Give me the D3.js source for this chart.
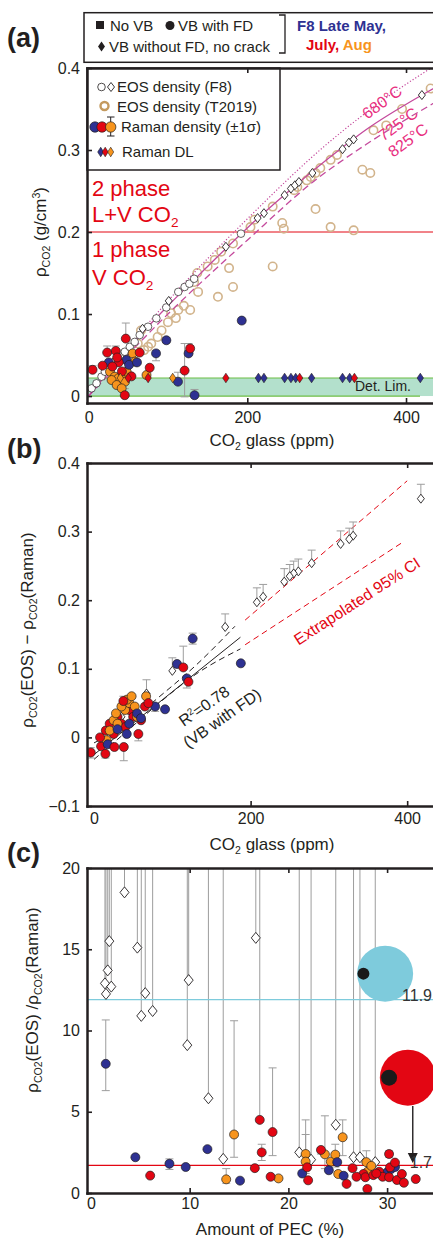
<!DOCTYPE html>
<html>
<head>
<meta charset="utf-8">
<title>CO2 density</title>
<script src="https://cdn.jsdelivr.net/npm/d3@7"></script>
<style>
  body { margin: 0; background: #fff; }
  text { font-family: "Liberation Sans", Arial, sans-serif; fill: #231f20; }
</style>
</head>
<body>
<svg id="fig" width="433" height="1238"></svg>
<script>
// ---- panel (a): EOS density vs CO2 glass ----
var eosF8Circles = [[3.8,.0094],[10,.0155],[16.3,.0236],[20.5,.0297],[26.7,.036],[33,.042],[39.3,.048],[45.6,.054],[51.9,.060],[58.1,.066],[64.4,.0744],[74.9,.0845],[85.4,.0947],[97.9,.108],[113,.127],[121,.133],[127,.137],[133,.143],[192,.198]];
var eosF8Diamonds = [[68,.082],[101,.116],[173,.182],[213,.217],[221,.223],[247,.245],[255,.253],[260,.257],[265,.261],[282,.272],[320,.301],[328,.309],[334,.313],[420,.367]];
var eosT2019 = [[431,.375],[359,.324],[345,.276],[355,.272],[305,.288],[313,.294],[286,.272],[275,.263],[292,.278],[263,.255],[280,.267],[259,.251],[232,.231],[286,.228],[244,.211],[246,.204],[305,.206],[334,.202],[204,.206],[209,.215],[182,.186],[177,.156],[232,.158],[182,.133],[163,.121],[138,.127],[150,.158],[167,.176],[159,.166],[137,.15],[133,.139],[128,.105],[113,.105],[104,.101],[92,.08],[87,.072],[79,.064],[75,.06],[70,.056],[62,.064],[66,.08],[100,.09],[110,.095],[120,.11],[395,.35],[375,.33]];
var iso680 = [[0,0],[100,.116],[200,.216],[300,.307],[389,.373],[440,.405]];
var iso725 = [[0,0],[50,.058],[100,.110],[150,.158],[200,.205],[250,.248],[300,.288],[350,.325],[420,.367],[440,.378]];
var iso825 = [[0,0],[100,.1],[200,.19],[284,.262],[350,.307],[440,.36]];
// Raman density: [co2, rho, low, high]
var ramanBlueA = [[193,.092,.089,.095],[98,.068,.065,.071],[85,.052,.043,.052],[25.5,.041],[47.7,.044],[51,.038],[61,.041],[112.6,.0175,.0175,.029],[126,.052,.052,.064],[133.5,.001,.001,.008]];
var ramanRedA = [[46.9,.070,.070,.089],[23.4,.053,.053,.061],[34.3,.055,.055,.061],[5,.032,.032,.037],[17.6,.037],[64.4,.053],[77,.0345],[45.6,.001,.001,.009],[121,.031,-.001,.064],[128,.058],[54,.024],[38,.041],[42,.03],[30,.036],[36,.047]];
var ramanOrangeA = [[27,.0296],[33,.0236],[37.5,.0216],[43.7,.0256],[48,.0296],[45.9,.0175],[29,.0195],[35.4,.0134],[41.7,.0094],[55.5,.052],[58.5,.042],[73,.0256]];
var dlRho = 0.022;
var dlRed = [50,75,173,266,335];
var dlBlue = [214,221,247,255,261,281,320,329,418];
var dlOrange = [40,106];

// ---- panel (b): EOS - Raman ----
var diffDiamonds = [[417.5,.348,.369],[331,.294,.314],[326,.289,.305],[315,.282,.301],[278,.254,.273],[261,.242,.26],[255,.239,.257],[250,.235,.252],[243,.227,.246],[216,.205,.223],[208,.197,.218],[167.5,.161,.18],[100,.097,.116],[67,.064,.084],[45,.04,.055],[35,.03,.045]];
var diffBlue = [[126,.144,.136,.152],[106,.107],[187.5,.108],[118.5,.086,.072,.086],[78,.045,.038,.045],[90.7,.041],[41.8,.005],[17.5,-.01],[55,.035],[45,.02],[30,.012],[60,.028]];
var diffRed = [[114,.102,.102,.133],[120.6,.081],[69.4,.05],[37.5,.053,.053,.06],[56.6,.005,-.005,.005],[38,-.014,-.034,-.014],[-4.2,-.022,-.03,-.015],[14.5,-.024,-.03,-.024],[26,-.014],[7.7,0],[9,-.013],[15,.01],[20,.02],[25,.005],[30,.03],[35,.02],[45,.04],[50,.03],[60,.025],[65,.045],[40,.015]];
var diffOrange = [[66.5,.06],[39.6,.04],[45,.05],[52,.045],[35,.045],[25,.025],[16,-.004],[20,.01],[55,.03],[30,.02],[42,.055],[48,.06],[28,.035]];
var fitLine = [[0,-.025],[187,.146]];
var ciUpper = [[0,-.008],[40,.018],[80,.056],[130,.105],[180,.162]];
var ciLower = [[0,-.032],[40,.007],[80,.047],[130,.092],[187,.129]];
var extUpper = [[193,.171],[400,.374]];
var extLower = [[193,.135],[395,.285]];

// ---- panel (c): EOS / Raman vs PEC ----
var ratioDiamonds = [[3.4,18.5],[1.86,15.5],[4.7,15.1],[1.7,13.7],[1.42,12.9],[2.06,12.7],[1.52,12.25],[5.5,12.3],[9.9,13.1],[5.1,10.9],[6.25,11.2],[9.76,9.1],[16.7,15.7],[11.9,5.83],[13.4,2.1],[24.8,4.2],[21.1,2.5],[22.3,2.05],[26.6,2.2],[27.25,2.2],[28.8,1.9]];
var ratioBlue = [[1.5,7.95,6.3,10.65],[4.5,2.2],[7.95,1.8,1.45,2.1],[9.6,1.6],[11.8,2.7],[15.1,.76],[21.4,1.2],[24.1,1.4],[24.95,1.9],[25.6,1.06],[30.0,1.27],[30.4,1.47],[30.8,1.6]];
var ratioRed = [[6.0,1.07],[17.1,4.5,4.5,30],[17.3,2.5,2.0,3.0],[18.4,3.75,2.3,7.7],[16.6,1.53],[18.2,1.0],[21.9,1.58],[22.0,.78],[23.3,2.65,2.4,2.8],[26.5,1.53],[25.9,.56],[27.6,1.17],[27.8,.97],[28.0,.25],[28.6,1.1],[29.2,1.31],[29.55,1.0],[30.2,.97],[30.2,2.4,2.2,2.6],[30.3,1.58],[30.8,1.87],[31.0,.8],[31.5,1.17],[31.7,.63],[32.9,.86],[26.9,1.0],[28.9,1.2]];
var ratioOrange = [[14.5,3.6,2.2,10.6],[13.7,.84,.6,1.5],[19.0,.9],[21.75,2.4,1.5,4.5],[21.75,1.93,1.2,3.6],[23.7,2.38,1.5,4.75],[24.3,1.93],[24.75,2.36,1.6,3.0],[25.05,1.17],[25.5,3.43,2.3,4.5],[27.9,1.9,1.4,2.6],[28.0,1.3],[28.4,1.67]];
var meanLines = [11.9, 1.7];
var meanLabels = ["11.9", "1.7"];
var bigCircles = [[29.8,13.5],[32.1,7.1]];
var bigDots = [[27.6,13.5],[30.2,7.1]];
var arrowPec = 32.6, arrowFrom = 5.35, arrowTo = 1.85;

var ink = "#231f20", blue = "#2e3192", red = "#e30613", orange = "#f7941d",
    tan = "#d2b48c", grey = "#9d9d9d", cyan = "#7ecbdc", pink = "#e8307f", iso = "#c4499c";

var svg = d3.select("#fig");

function diamond(w, h) { return "M0," + (-h) + "L" + w + ",0L0," + h + "L" + (-w) + ",0Z"; }

function styleAxis(sel) {
  sel.select(".domain").attr("stroke", ink).attr("stroke-width", 2.5).attr("stroke-linecap", "square");
  sel.selectAll(".tick line").attr("stroke", ink).attr("stroke-width", 1.6);
  sel.selectAll(".tick text").attr("fill", "#333").style("font-size", "16px");
}

function drawAxes(g, x, y, o) {
  var yb = y.range()[0], yt = y.range()[1], x0 = x.range()[0];
  var b = g.append("g").attr("transform", "translate(0," + yb + ")")
    .call(d3.axisBottom(x).tickValues(o.xTicks).tickSize(-5).tickSizeOuter(0).tickPadding(o.xPad).tickFormat(d3.format("d")))
    .call(styleAxis);
  var t = g.append("g").attr("transform", "translate(0," + yt + ")")
    .call(d3.axisTop(x).tickValues(o.xTicks).tickSize(-5).tickSizeOuter(0).tickFormat(""))
    .call(styleAxis);
  b.selectAll(".tick line").filter(function (d) { return d === 0; }).remove();
  t.selectAll(".tick line").filter(function (d) { return d === 0; }).remove();
  g.append("g").attr("transform", "translate(" + x0 + ",0)")
    .call(d3.axisLeft(y).tickValues(o.yTicks).tickSize(-5).tickSizeOuter(0).tickPadding(7).tickFormat(o.yFmt))
    .call(styleAxis);
}

function clip(id, x, y) {
  svg.append("clipPath").attr("id", id).append("rect")
    .attr("x", x.range()[0]).attr("y", y.range()[1])
    .attr("width", x.range()[1] - x.range()[0]).attr("height", y.range()[0] - y.range()[1]);
}

function errorBars(g, data, x, y, cap) {
  var top = y.domain()[1];
  data.filter(function (d) { return d.length > 2; }).forEach(function (d) {
    var lo = d[2], hi = d[3];
    g.append("line").attr("x1", x(d[0])).attr("x2", x(d[0]))
      .attr("y1", y(lo)).attr("y2", y(Math.min(hi, top + 1)))
      .attr("stroke", grey).attr("stroke-width", 1);
    [lo, hi].forEach(function (v) {
      if (v === d[1] || v > top) return;
      g.append("line").attr("x1", x(d[0]) - cap).attr("x2", x(d[0]) + cap)
        .attr("y1", y(v)).attr("y2", y(v)).attr("stroke", grey).attr("stroke-width", 1);
    });
  });
}

function dots(g, data, x, y, fill, r) {
  g.selectAll(null).data(data).join("circle")
    .attr("cx", function (d) { return x(d[0]); })
    .attr("cy", function (d) { return y(d[1]); })
    .attr("r", r).attr("fill", fill).attr("stroke", ink).attr("stroke-width", 0.7);
}

function diamonds(g, data, x, y, fill, w, h, sw) {
  g.selectAll(null).data(data).join("path")
    .attr("d", diamond(w, h))
    .attr("transform", function (d) { return "translate(" + x(d[0]) + "," + y(d[1]) + ")"; })
    .attr("fill", fill).attr("stroke", ink).attr("stroke-width", sw);
}

function subText(parent, parts, attrs) {
  var t = parent.append("text");
  for (var k in attrs) t.attr(k, attrs[k]);
  parts.forEach(function (p) {
    var s = t.append("tspan").text(p[0]);
    if (p[1] === "sub") s.attr("font-size", "0.62em").attr("dy", "0.35em");
    if (p[1] === "sup") s.attr("font-size", "0.62em").attr("dy", "-0.6em");
    if (p[1] === "back") s.attr("dy", "-0.22em");
    if (p[1] === "down") s.attr("dy", "0.38em");
  });
  return t;
}

// ================= panel (a) =================
var xa = d3.scaleLinear().domain([-2, 434]).range([87, 433]);
var ya = d3.scaleLinear().domain([-0.0085, 0.4]).range([403, 68]);
clip("clipA", xa, ya);
var ga = svg.append("g");
var pa = ga.append("g").attr("clip-path", "url(#clipA)");

// detection limit band
pa.append("rect").attr("x", xa(-2)).attr("width", 346).attr("y", ya(dlRho)).attr("height", ya(0) - ya(dlRho))
  .attr("fill", "#b3e0cc");
pa.append("line").attr("x1", 87).attr("x2", 433).attr("y1", ya(dlRho)).attr("y2", ya(dlRho)).attr("stroke", "#6cbd45").attr("stroke-width", 1.2);
pa.append("line").attr("x1", 87).attr("x2", 420).attr("y1", ya(0)).attr("y2", ya(0)).attr("stroke", "#6cbd45").attr("stroke-width", 1.2);
pa.append("text").attr("x", 355).attr("y", 391).style("font-size", "14px").text("Det. Lim.");

// phase boundary
pa.append("line").attr("x1", 87).attr("x2", 433).attr("y1", ya(0.2)).attr("y2", ya(0.2)).attr("stroke", red).attr("stroke-width", 1);

pa.selectAll(null).data(eosT2019).join("circle")
  .attr("cx", function (d) { return xa(d[0]); }).attr("cy", function (d) { return ya(d[1]); })
  .attr("r", 4.2).attr("fill", "none").attr("stroke", tan).attr("stroke-width", 1.6);

var lineA = d3.line().x(function (d) { return xa(d[0]); }).y(function (d) { return ya(d[1]); }).curve(d3.curveMonotoneX);
pa.append("path").attr("d", lineA(iso680)).attr("fill", "none").attr("stroke", iso).attr("stroke-width", 1.2).attr("stroke-dasharray", "1.2,2");
pa.append("path").attr("d", lineA(iso725)).attr("fill", "none").attr("stroke", iso).attr("stroke-width", 1.3);
pa.append("path").attr("d", lineA(iso825)).attr("fill", "none").attr("stroke", iso).attr("stroke-width", 1.3).attr("stroke-dasharray", "7,4");

dots(pa, eosF8Circles, xa, ya, "#fff", 3.8);
diamonds(pa, eosF8Diamonds, xa, ya, "#fff", 3.5, 4.5, 0.9);

var ramanA = ramanBlueA.concat(ramanRedA, ramanOrangeA);
errorBars(pa, ramanA, xa, ya, 4);
dots(pa, ramanOrangeA, xa, ya, orange, 4.5);
dots(pa, ramanBlueA, xa, ya, blue, 4.5);
dots(pa, ramanRedA, xa, ya, red, 4.5);
diamonds(pa, dlBlue.map(function (v) { return [v, dlRho]; }), xa, ya, blue, 3.2, 4.8, 0.6);
diamonds(pa, dlRed.map(function (v) { return [v, dlRho]; }), xa, ya, red, 3.2, 4.8, 0.6);
diamonds(pa, dlOrange.map(function (v) { return [v, dlRho]; }), xa, ya, orange, 3.2, 4.8, 0.6);

// phase texts
[["2 phase", 196], ["L+V CO", 222], ["1 phase", 257], ["V CO", 285]].forEach(function (p, i) {
  var t = ga.append("text").attr("x", 92).attr("y", p[1]).style("font-size", "22px").style("fill", red).text(p[0]);
  if (i % 2 === 1) t.append("tspan").attr("font-size", "0.62em").attr("dy", "0.35em").text("2");
});

// isotherm labels
[["680°C", 382, 102], ["725°C", 398, 124], ["825°C", 408, 140]].forEach(function (p) {
  ga.append("text").attr("transform", "translate(" + p[1] + "," + p[2] + ") rotate(-36)")
    .attr("text-anchor", "middle").attr("dy", "0.35em").style("font-size", "16px").style("fill", pink).text(p[0]);
});

// inner legend
ga.append("rect").attr("x", 87).attr("y", 68).attr("width", 193).attr("height", 102)
  .attr("fill", "#fff").attr("stroke", ink).attr("stroke-width", 1.5);
ga.append("circle").attr("cx", 101.5).attr("cy", 87).attr("r", 3.8).attr("fill", "#fff").attr("stroke", ink).attr("stroke-width", 0.8);
ga.append("path").attr("d", diamond(3.5, 4.5)).attr("transform", "translate(111,87)").attr("fill", "#fff").attr("stroke", ink).attr("stroke-width", 0.9);
ga.append("text").attr("x", 117).attr("y", 92).style("font-size", "15px").text("EOS density (F8)");
ga.append("circle").attr("cx", 104.5).attr("cy", 106).attr("r", 4).attr("fill", "none").attr("stroke", "#c49a5e").attr("stroke-width", 2.4);
ga.append("text").attr("x", 117).attr("y", 112).style("font-size", "15px").text("EOS density (T2019)");
ga.append("line").attr("x1", 110.7).attr("x2", 110.7).attr("y1", 117).attr("y2", 136).attr("stroke", ink).attr("stroke-width", 1);
ga.append("line").attr("x1", 107).attr("x2", 114.5).attr("y1", 117).attr("y2", 117).attr("stroke", ink).attr("stroke-width", 1);
ga.append("line").attr("x1", 107).attr("x2", 114.5).attr("y1", 136).attr("y2", 136).attr("stroke", ink).attr("stroke-width", 1);
[[95, blue], [102, red], [110.7, orange]].forEach(function (p) {
  ga.append("circle").attr("cx", p[0]).attr("cy", 127).attr("r", 5.2).attr("fill", p[1]).attr("stroke", ink).attr("stroke-width", 0.7);
});
ga.append("text").attr("x", 121).attr("y", 132).style("font-size", "15px").text("Raman density (±1σ)");
[[100.7, blue], [105.2, red], [110.7, orange]].forEach(function (p) {
  ga.append("path").attr("d", diamond(3, 4.8)).attr("transform", "translate(" + p[0] + ",152)").attr("fill", p[1]).attr("stroke", ink).attr("stroke-width", 0.6);
});
ga.append("text").attr("x", 122).attr("y", 157).style("font-size", "15px").text("Raman DL");

drawAxes(ga, xa, ya, { xTicks: [0, 200, 400], xPad: 9, yTicks: [0, 0.1, 0.2, 0.3, 0.4],
  yFmt: function (d) { return d === 0 ? "0" : d3.format(".1f")(d); } });

subText(ga, [["CO"], ["2", "sub"], [" glass (ppm)", "back"]], { x: 272, y: 446, "text-anchor": "middle" }).style("font-size", "17px");
subText(ga, [["ρ"], ["CO2", "sub"], [" (g/cm", "back"], ["3", "sup"], [")", "down"]],
  { transform: "translate(46,232) rotate(-90)", "text-anchor": "middle" }).style("font-size", "17px");

// top legend
var tl = svg.append("g");
tl.append("rect").attr("x", 84).attr("y", 12.7).attr("width", 360).attr("height", 49.6).attr("fill", "#fff").attr("stroke", ink).attr("stroke-width", 1.5);
tl.append("rect").attr("x", 96).attr("y", 21).attr("width", 8).attr("height", 8).attr("fill", ink);
tl.append("text").attr("x", 110).attr("y", 31).style("font-size", "15px").text("No VB");
tl.append("circle").attr("cx", 170).attr("cy", 25.5).attr("r", 4.5).attr("fill", ink);
tl.append("text").attr("x", 178).attr("y", 31).style("font-size", "15px").text("VB with FD");
tl.append("path").attr("d", diamond(3.5, 5)).attr("transform", "translate(101.5,46.5)").attr("fill", ink);
tl.append("text").attr("x", 109).attr("y", 52).style("font-size", "15px").text("VB without FD, no crack");
tl.append("path").attr("d", "M279,15H285V53H279").attr("fill", "none").attr("stroke", ink).attr("stroke-width", 1.3);
tl.append("text").attr("x", 297).attr("y", 31).style("font-size", "15px").style("font-weight", "bold").style("fill", blue).text("F8 Late May,");
var jt = tl.append("text").attr("x", 306).attr("y", 50).style("font-size", "15px").style("font-weight", "bold");
jt.append("tspan").style("fill", red).text("July, ");
jt.append("tspan").style("fill", orange).text("Aug");

// ================= panel (b) =================
var xb = d3.scaleLinear().domain([-9, 433]).range([87, 433]);
var yb = d3.scaleLinear().domain([-0.1, 0.4]).range([806, 463]);
clip("clipB", xb, yb);
var gb = svg.append("g");
var pb = gb.append("g").attr("clip-path", "url(#clipB)");
var lineB = d3.line().x(function (d) { return xb(d[0]); }).y(function (d) { return yb(d[1]); }).curve(d3.curveMonotoneX);

pb.append("path").attr("d", lineB(extUpper)).attr("fill", "none").attr("stroke", red).attr("stroke-width", 1).attr("stroke-dasharray", "6,4");
pb.append("path").attr("d", lineB(extLower)).attr("fill", "none").attr("stroke", red).attr("stroke-width", 1).attr("stroke-dasharray", "6,4");
pb.append("path").attr("d", lineB(ciUpper)).attr("fill", "none").attr("stroke", ink).attr("stroke-width", 1).attr("stroke-dasharray", "6,4");
pb.append("path").attr("d", lineB(ciLower)).attr("fill", "none").attr("stroke", ink).attr("stroke-width", 1).attr("stroke-dasharray", "6,4");
pb.append("path").attr("d", lineB(fitLine)).attr("fill", "none").attr("stroke", ink).attr("stroke-width", 1);

errorBars(pb, diffDiamonds.map(function (d) { return [d[0], d[1], d[1], d[2]]; }), xb, yb, 4);
errorBars(pb, diffBlue.concat(diffRed, diffOrange), xb, yb, 4);
diamonds(pb, diffDiamonds, xb, yb, "#fff", 3.5, 4.5, 0.9);
dots(pb, diffRed.slice(10), xb, yb, red, 4.5);
dots(pb, diffOrange, xb, yb, orange, 4.5);
dots(pb, diffBlue, xb, yb, blue, 4.5);
dots(pb, diffRed.slice(0, 10), xb, yb, red, 4.5);

gb.append("text").attr("transform", "translate(357,601) rotate(-33)").attr("text-anchor", "middle").attr("dy", "0.35em")
  .style("font-size", "16px").style("fill", red).text("Extrapolated 95% CI");
var r2 = gb.append("text").attr("transform", "translate(204,706) rotate(-35)").attr("text-anchor", "middle").attr("dy", "0.35em").style("font-size", "16px");
r2.append("tspan").text("R");
r2.append("tspan").attr("font-size", "0.6em").attr("dy", "-0.6em").text("2");
r2.append("tspan").attr("dy", "0.36em").text("=0.78");
gb.append("text").attr("transform", "translate(222,718) rotate(-35)").attr("text-anchor", "middle").attr("dy", "0.35em")
  .style("font-size", "16px").text("(VB with FD)");

drawAxes(gb, xb, yb, { xTicks: [0, 200, 400], xPad: 7, yTicks: [-0.1, 0, 0.1, 0.2, 0.3, 0.4],
  yFmt: function (d) { return d === 0 ? "0" : d3.format(".1f")(d); } });
subText(gb, [["CO"], ["2", "sub"], [" glass (ppm)", "back"]], { x: 272, y: 850, "text-anchor": "middle" }).style("font-size", "17px");
subText(gb, [["ρ"], ["CO2", "sub"], ["(EOS) − ρ", "back"], ["CO2", "sub"], ["(Raman)", "back"]],
  { transform: "translate(33,630) rotate(-90)", "text-anchor": "middle" }).style("font-size", "17px");

// ================= panel (c) =================
var xc = d3.scaleLinear().domain([-0.4, 34.65]).range([87, 433]);
var yc = d3.scaleLinear().domain([0, 20]).range([1193, 868]);
clip("clipC", xc, yc);
var gc = svg.append("g");
var pc = gc.append("g").attr("clip-path", "url(#clipC)");

pc.selectAll(null).data(ratioDiamonds).join("line")
  .attr("x1", function (d) { return xc(d[0]); }).attr("x2", function (d) { return xc(d[0]); })
  .attr("y1", function (d) { return yc(d[1]); }).attr("y2", yc(20))
  .attr("stroke", grey).attr("stroke-width", 1);
errorBars(pc, ratioBlue.concat(ratioRed, ratioOrange), xc, yc, 4);

pc.append("line").attr("x1", 87).attr("x2", 433).attr("y1", yc(meanLines[0])).attr("y2", yc(meanLines[0])).attr("stroke", cyan).attr("stroke-width", 1.2);
pc.append("line").attr("x1", 87).attr("x2", 433).attr("y1", yc(meanLines[1])).attr("y2", yc(meanLines[1])).attr("stroke", red).attr("stroke-width", 1.2);

diamonds(pc, ratioDiamonds, xc, yc, "#fff", 4.5, 5.5, 0.9);
dots(pc, ratioOrange, xc, yc, orange, 4.5);
dots(pc, ratioBlue, xc, yc, blue, 4.5);
dots(pc, ratioRed, xc, yc, red, 4.5);

pc.append("circle").attr("cx", xc(bigCircles[0][0])).attr("cy", yc(bigCircles[0][1])).attr("r", 28).attr("fill", cyan);
pc.append("circle").attr("cx", xc(bigCircles[1][0])).attr("cy", yc(bigCircles[1][1])).attr("r", 28).attr("fill", red);
pc.append("circle").attr("cx", xc(bigDots[0][0])).attr("cy", yc(bigDots[0][1])).attr("r", 6).attr("fill", "#1a1a1a");
pc.append("circle").attr("cx", xc(bigDots[1][0])).attr("cy", yc(bigDots[1][1])).attr("r", 8).attr("fill", "#1a1a1a");
pc.append("line").attr("x1", xc(arrowPec)).attr("x2", xc(arrowPec)).attr("y1", yc(arrowFrom)).attr("y2", yc(arrowTo) - 8)
  .attr("stroke", ink).attr("stroke-width", 1.4);
pc.append("path").attr("d", "M" + (xc(arrowPec) - 5) + "," + (yc(arrowTo) - 10) + "L" + (xc(arrowPec) + 5) + "," + (yc(arrowTo) - 10) + "L" + xc(arrowPec) + "," + yc(arrowTo) + "Z")
  .attr("fill", ink);

// mean labels pulled in slightly so they stay inside the page
gc.append("text").attr("x", 432).attr("y", yc(meanLines[0]) + 1).attr("text-anchor", "end").style("font-size", "16px").style("fill", "#333").text(meanLabels[0]);
gc.append("text").attr("x", 432).attr("y", yc(meanLines[1]) + 3).attr("text-anchor", "end").style("font-size", "16px").style("fill", "#333").text(meanLabels[1]);

drawAxes(gc, xc, yc, { xTicks: [0, 10, 20, 30], xPad: 5, yTicks: [0, 5, 10, 15, 20], yFmt: d3.format("d") });
gc.append("text").attr("x", 270).attr("y", 1235).attr("text-anchor", "middle").style("font-size", "17px").text("Amount of PEC (%)");
subText(gc, [["ρ"], ["CO2", "sub"], ["(EOS) /ρ", "back"], ["CO2", "sub"], ["(Raman)", "back"]],
  { transform: "translate(38,1000) rotate(-90)", "text-anchor": "middle" }).style("font-size", "17px");

// panel letters
[["(a)", 47], ["(b)", 458], ["(c)", 862]].forEach(function (p) {
  svg.append("text").attr("x", 7).attr("y", p[1]).style("font-size", "27px").style("font-weight", "bold").text(p[0]);
});
</script>
</body>
</html>
